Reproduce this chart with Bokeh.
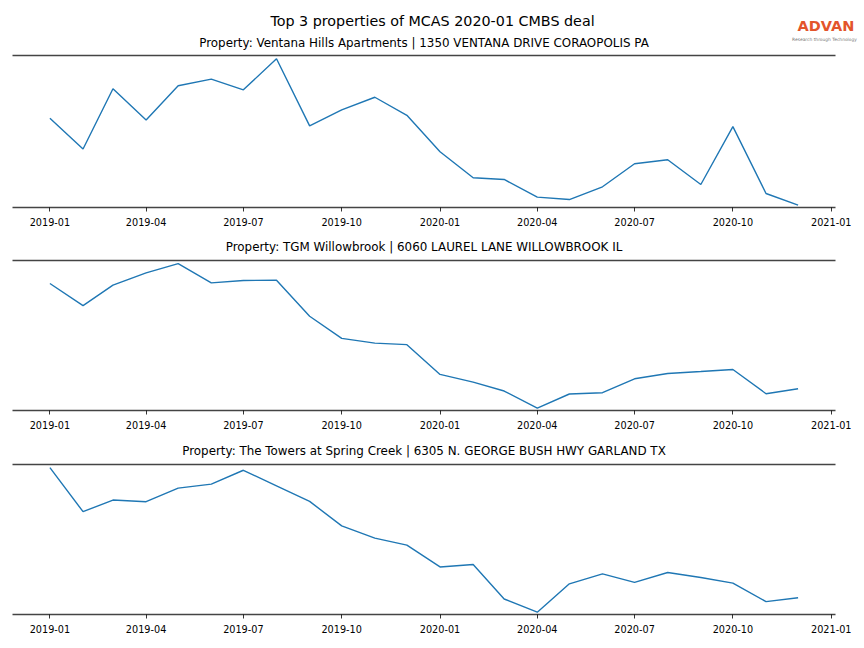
import pandas as pd
from bokeh.plotting import figure
from bokeh.layouts import column, row
from bokeh.models import (Range1d, FixedTicker, DatetimeTickFormatter, LinearAxis,
                          Title)
from bokeh.core.properties import value
from bokeh.embed import file_html
from bokeh.resources import INLINE

# ---------------- data ----------------
MONTHS = ["2019-01", "2019-02", "2019-03", "2019-04", "2019-05", "2019-06",
          "2019-07", "2019-08", "2019-09", "2019-10", "2019-11", "2019-12",
          "2020-01", "2020-02", "2020-03", "2020-04", "2020-05", "2020-06",
          "2020-07", "2020-08", "2020-09", "2020-10", "2020-11", "2020-12"]

TICK_LABELS = ["2019-01", "2019-04", "2019-07", "2019-10", "2020-01",
               "2020-04", "2020-07", "2020-10", "2021-01"]

MAIN_TITLE = "Top 3 properties of MCAS 2020-01 CMBS deal"
LOGO_TEXT = "ADVAN"
LOGO_TAGLINE = "Research through Technology"

PROPERTY_TITLES = [
    "Property: Ventana Hills Apartments | 1350 VENTANA DRIVE CORAOPOLIS PA",
    "Property: TGM Willowbrook | 6060 LAUREL LANE WILLOWBROOK IL",
    "Property: The Towers at Spring Creek | 6305 N. GEORGE BUSH HWY GARLAND TX",
]

VENTANA = [973, 667, 1267, 957, 1297, 1363, 1257, 1567, 897, 1057, 1183, 1003,
           640, 380, 363, 187, 163, 290, 520, 560, 313, 890, 223, 107]
TGM = [1373, 1150, 1357, 1480, 1573, 1380, 1403, 1407, 1043, 820, 773, 757,
       457, 380, 290, 117, 260, 273, 413, 467, 487, 507, 263, 313]
TOWERS = [1583, 1140, 1257, 1240, 1377, 1417, 1557, 1400, 1243, 997, 873, 803,
          583, 607, 260, 127, 413, 513, 427, 527, 477, 420, 233, 273]

SERIES = [VENTANA, TGM, TOWERS]

# ---------------- styling ----------------
FONT = "DejaVu Sans"
LINE_COLOR = "#1f77b4"
SPINE_COLOR = "#444444"
W = 856
HEADER_W = 864
BORDER_L, BORDER_R = 12, 21
HEADER_H = 50

dates = pd.to_datetime(MONTHS, format="%Y-%m")
tick_dates = pd.to_datetime(TICK_LABELS, format="%Y-%m")
tick_ms = [float(d.value // 10**6) for d in tick_dates]
span = dates[-1] - dates[0]
x_start = dates[0] - span * 0.05
x_end = dates[-1] + span * 0.05

fmt = "%Y-%m"
formatter = DatetimeTickFormatter(
    microseconds=fmt, milliseconds=fmt, seconds=fmt, minsec=fmt, minutes=fmt,
    hourmin=fmt, hours=fmt, days=fmt, months=fmt, years=fmt)

# ---------------- header (main title, first subtitle, logo) ----------------
header = figure(width=HEADER_W, height=HEADER_H, output_backend="svg",
                toolbar_location=None, x_axis_location=None,
                y_axis_location=None, min_border=0,
                x_range=Range1d(0, HEADER_W), y_range=Range1d(HEADER_H, 0))
header.xgrid.visible = False
header.ygrid.visible = False
header.outline_line_color = None
frame_center = BORDER_L + (W - BORDER_L - BORDER_R) / 2
header.text(x=[432], y=[20], text=[MAIN_TITLE], text_font=value(FONT),
            text_font_size="14.3px", text_color="black",
            text_align="center", text_baseline="middle")
header.text(x=[frame_center], y=[42], text=[PROPERTY_TITLES[0]],
            text_font=value(FONT), text_font_size="11.9px", text_color="black",
            text_align="center", text_baseline="middle")
header.text(x=[825.5], y=[25.7], text=[LOGO_TEXT], text_font=value(FONT),
            text_font_size="14.5px", text_font_style="bold",
            text_color="#e3542b", text_align="center", text_baseline="middle")
header.text(x=[824], y=[39], text=[LOGO_TAGLINE], text_font=value(FONT),
            text_font_size="4.4px", text_color="#777777",
            text_align="center", text_baseline="middle")

layout_specs = [
    # (height, min_border_top, min_border_bottom)
    (180, 5, 23),
    (204, 30, 24),
    (206, 30, 26),
]

figs = []
for i, (vals, ptitle) in enumerate(zip(SERIES, PROPERTY_TITLES)):
    h, bt, bb = layout_specs[i]
    lo, hi = min(vals), max(vals)
    rng = hi - lo
    p = figure(width=W, height=h, x_axis_type="datetime",
               output_backend="svg", toolbar_location=None,
               title_location=None, y_axis_location=None,
               min_border_left=BORDER_L, min_border_right=BORDER_R,
               min_border_top=bt, min_border_bottom=bb)
    p.x_range = Range1d(start=x_start, end=x_end)
    p.y_range = Range1d(start=lo - rng * 0.016, end=hi + rng * 0.022)
    p.line(dates, vals, line_color=LINE_COLOR, line_width=1.4)

    p.xgrid.visible = False
    p.ygrid.visible = False
    p.outline_line_color = None

    xa = p.xaxis[0]
    xa.ticker = FixedTicker(ticks=tick_ms)
    xa.formatter = formatter
    xa.axis_line_color = SPINE_COLOR
    xa.axis_line_width = 1.6
    xa.major_tick_line_color = "black"
    xa.major_tick_line_width = 0.8
    xa.major_tick_out = 4
    xa.major_tick_in = 0
    xa.minor_tick_line_color = None
    xa.major_label_text_font = FONT
    xa.major_label_text_font_size = "9.7px"
    xa.major_label_text_color = "black"
    xa.major_label_standoff = 6

    top = LinearAxis(ticker=FixedTicker(ticks=[]), axis_line_color=SPINE_COLOR,
                     axis_line_width=1.6, major_tick_line_color=None,
                     minor_tick_line_color=None, major_label_text_font_size="0px",
                     major_tick_out=0, major_tick_in=0, major_label_standoff=0)
    p.add_layout(top, "above")

    if i > 0:
        p.add_layout(Title(text=ptitle, align="center", text_font=FONT,
                           text_font_size="11.9px", text_font_style="normal",
                           text_color="black", standoff=13), "above")
    figs.append(p)

layout = column(row(header, spacing=0), *figs, spacing=0)
open("out.html", "w").write(file_html(layout, INLINE))
